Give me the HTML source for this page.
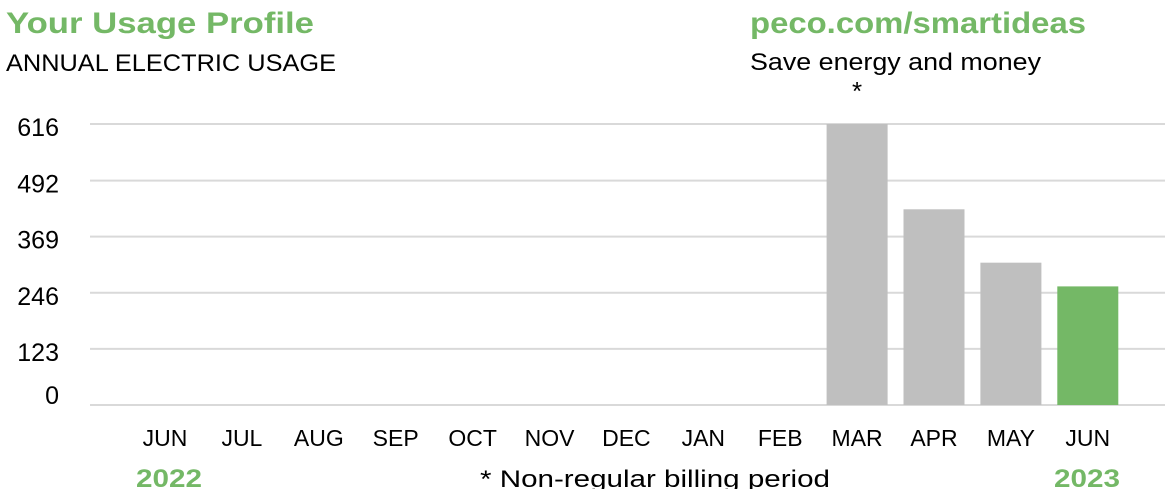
<!DOCTYPE html>
<html><head><meta charset="utf-8"><style>
body{margin:0;width:1168px;height:489px;background:#fff;overflow:hidden;font-family:"Liberation Sans",sans-serif;}
svg{position:absolute;left:0;top:0}
</style></head><body>
<svg width="1168" height="489" xmlns="http://www.w3.org/2000/svg">
<text x="6" y="33" font-size="30" font-weight="bold" fill="#74b866" textLength="308" lengthAdjust="spacingAndGlyphs">Your Usage Profile</text>
<text x="6" y="71" font-size="24" fill="#000" textLength="330" lengthAdjust="spacingAndGlyphs">ANNUAL ELECTRIC USAGE</text>
<text x="750" y="33" font-size="30" font-weight="bold" fill="#74b866" textLength="336" lengthAdjust="spacingAndGlyphs">peco.com/smartideas</text>
<text x="750" y="70" font-size="24" fill="#000" textLength="291" lengthAdjust="spacingAndGlyphs">Save energy and money</text>
<g id="grid"></g><g id="bars"></g><g id="xlabels"></g>
<text x="169" y="487" font-size="25" font-weight="bold" fill="#74b866" text-anchor="middle" textLength="66" lengthAdjust="spacingAndGlyphs">2022</text>
<text x="1087" y="487" font-size="25" font-weight="bold" fill="#74b866" text-anchor="middle" textLength="66" lengthAdjust="spacingAndGlyphs">2023</text>
<text x="480" y="487" font-size="24" fill="#000" textLength="350" lengthAdjust="spacingAndGlyphs">* Non-regular billing period</text>
</svg>
<script>
const months=["JUN","JUL","AUG","SEP","OCT","NOV","DEC","JAN","FEB","MAR","APR","MAY","JUN"];
const usage=[0,0,0,0,0,0,0,0,0,616,429,312,260];
const nonRegular=[false,false,false,false,false,false,false,false,false,true,false,false,false];
const ticks=[0,123,246,369,492,616];
const NS="http://www.w3.org/2000/svg";
const y0=405,yTop=124,maxV=616;
const y=v=>y0-(v/maxV)*(y0-yTop);
const x=i=>165+i*76.9;
function mk(t,a,p){const e=document.createElementNS(NS,t);for(const k in a)e.setAttribute(k,a[k]);p.appendChild(e);return e;}
const g=document.getElementById('grid');
ticks.forEach((t,i)=>{
 const l=mk('line',{x1:90,x2:1165,y1:y(t),y2:y(t),stroke:'#d9d9d9','stroke-width':2},g);
 
 
 const tx=mk('text',{x:59,y:(t===0?y(t)-1:y(t)+12),'font-size':25,'text-anchor':'end',fill:'#000'},g);
 tx.textContent=t;
 
 
});
const b=document.getElementById('bars'),xl=document.getElementById('xlabels');
months.forEach((m,i)=>{
 if(usage[i]>0){
  const r=mk('rect',{x:x(i)-30.5,width:61,y:y(usage[i]),height:y0-y(usage[i]),fill:i===months.length-1?'#74b866':'#bfbfbf'},b);
  
  
 }
 if(nonRegular[i]){
  const s=mk('text',{x:x(i),y:y(usage[i])-24,'font-size':26,'text-anchor':'middle',fill:'#000'},b);
  s.textContent='*';
  
  
 }
 const t=mk('text',{x:x(i),y:446,'font-size':23,'text-anchor':'middle',fill:'#000'},xl);
 t.textContent=m;
 
 
});
</script>
</body></html>
